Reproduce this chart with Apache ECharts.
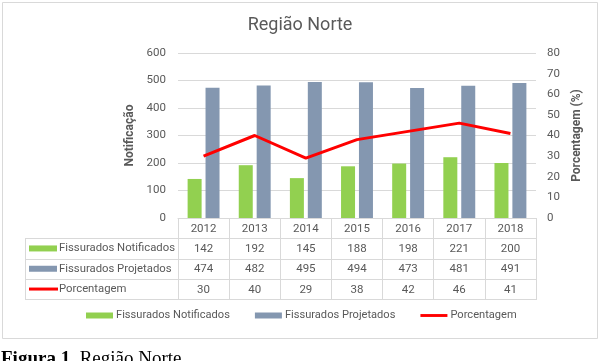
<!DOCTYPE html>
<html>
<head>
<meta charset="utf-8">
<script src="https://cdn.jsdelivr.net/npm/echarts@6/dist/echarts.min.js"></script>
<style>html,body{margin:0;padding:0;background:#fff}#c{width:600px;height:361px}</style>
</head>
<body>
<div id="c"></div>
<script>
const years = ['2012','2013','2014','2015','2016','2017','2018'];
const notificados = [142,192,145,188,198,221,200];
const projetados = [474,482,495,494,473,481,491];
const porcentagem = [30,40,29,38,42,46,41];
const seriesNames = ['Fissurados Notificados','Fissurados Projetados','Porcentagem'];
const title = 'Região Norte';
const leftAxisName = 'Notificação';
const rightAxisName = 'Porcentagem (%)';
const captionBold = 'Figura 1.';
const captionText = ' Região Norte';

const COLORS = ['#92D050','#8497B0','#FF0000'];
const TXT = '#595959';
const LINE = '#D9D9D9';
const FONT = 'Roboto, "Liberation Sans", sans-serif';
const GL = 178, GR = 536, GT = 53, GB = 218, ROW = 20.3;
const TABLE_L = 25;
const LINE_ICON = 'path://M0,0M0,1.5L28,1.5L28,4.5L0,4.5ZM28,6';

const chart = echarts.init(document.getElementById('c'), null, {renderer:'canvas'});

const rows = [notificados, projetados, porcentagem];
const extraX = rows.map((arr, k) => ({
  type:'category', gridIndex:0, position:'bottom', offset: ROW*(k+1),
  data: arr.map(String),
  axisLine:{show:false}, axisTick:{show:false}, splitLine:{show:false},
  axisLabel:{interval:0, margin:5, fontSize:11.5, color:TXT, fontFamily:FONT}
}));

const graphics = [];
// frame
graphics.push({type:'rect', shape:{x:2.5,y:2.5,width:595,height:336}, style:{fill:'none', stroke:LINE, lineWidth:1}, silent:true});
// table horizontal lines
for (let k=1;k<=4;k++){
  const y = Math.round(GB + ROW*k)+0.5;
  graphics.push({type:'line', shape:{x1:TABLE_L,y1:y,x2:GR,y2:y}, style:{stroke:LINE,lineWidth:1}, silent:true});
}
graphics.push({type:'line', shape:{x1:TABLE_L+0.5,y1:Math.round(GB+ROW)+0.5,x2:TABLE_L+0.5,y2:Math.round(GB+ROW*4)+0.5}, style:{stroke:LINE,lineWidth:1}, silent:true});
// table legend keys and labels
seriesNames.forEach((name,k)=>{
  const cy = GB + ROW*(k+1) + ROW/2;
  if (k<2) {
    graphics.push({type:'rect', shape:{x:29,y:cy-3,width:28,height:6}, style:{fill:COLORS[k]}, silent:true});
  } else {
    graphics.push({type:'line', shape:{x1:29,y1:cy,x2:58,y2:cy}, style:{stroke:COLORS[k],lineWidth:3}, silent:true});
  }
  graphics.push({type:'text', x:59, y:cy, style:{text:name, fill:TXT, font:'11.3px '+FONT, textVerticalAlign:'middle', textAlign:'left'}, silent:true});
});
// caption
graphics.push({type:'text', x:1, y:350, style:{
  text:'{b|'+captionBold+'}{n|'+captionText+'}',
  rich:{b:{fontFamily:'"Liberation Serif", serif', fontWeight:'bold', fontSize:19, fill:'#000'}, n:{fontFamily:'"Liberation Serif", serif', fontSize:19, fill:'#000'}},
  textVerticalAlign:'top'}, silent:true});

chart.setOption({
  animation:false,
  backgroundColor:'#fff',
  title:{text:title, left:'center', top:11, textStyle:{fontFamily:FONT, fontSize:18, fontWeight:'normal', color:TXT}},
  legend:{
    data: [
      {name:seriesNames[0], icon:'rect'},
      {name:seriesNames[1], icon:'rect'},
      {name:seriesNames[2], icon:LINE_ICON, itemStyle:{color:COLORS[2]}}
    ],
    left:86, top:310, padding:0, itemGap:25, itemWidth:27, itemHeight:6,
    textStyle:{fontFamily:FONT, fontSize:11.1, color:TXT, padding:[0,0,0,-2]}
  },
  grid:{left:GL, right:600-GR, top:GT, bottom:361-GB, containLabel:false},
  xAxis:[{
    type:'category', data:years, gridIndex:0,
    axisLine:{lineStyle:{color:LINE}},
    axisTick:{show:true, interval:0, alignWithLabel:false, length:Math.round(ROW*4)+1, lineStyle:{color:LINE}},
    axisLabel:{interval:0, margin:5, fontSize:11.5, color:TXT, fontFamily:FONT}
  }].concat(extraX),
  yAxis:[{
    type:'value', min:0, max:600, interval:100,
    name:leftAxisName, nameLocation:'middle', nameGap:37,
    nameTextStyle:{fontFamily:FONT, fontWeight:'bold', fontSize:12, color:TXT},
    axisLine:{show:false}, axisTick:{show:false},
    axisLabel:{margin:12, fontSize:11.5, color:TXT, fontFamily:FONT},
    splitLine:{lineStyle:{color:LINE}}
  },{
    type:'value', min:0, max:80, interval:10, position:'right',
    name:rightAxisName, nameLocation:'middle', nameGap:30, nameRotate:90,
    nameTextStyle:{fontFamily:FONT, fontWeight:'bold', fontSize:12, color:TXT},
    axisLine:{show:false}, axisTick:{show:false},
    axisLabel:{margin:11, fontSize:11.5, color:TXT, fontFamily:FONT},
    splitLine:{show:false}
  }],
  series:[
    {name:seriesNames[0], type:'bar', data:notificados, barWidth:14, barGap:'28%', itemStyle:{color:COLORS[0]}},
    {name:seriesNames[1], type:'bar', data:projetados, barWidth:14, barGap:'28%', itemStyle:{color:COLORS[1]}},
    {name:seriesNames[2], type:'line', yAxisIndex:1, data:porcentagem, symbol:'none', lineStyle:{color:COLORS[2], width:3}, itemStyle:{color:COLORS[2]}}
  ],
  graphic: graphics
});
</script>
</body>
</html>
